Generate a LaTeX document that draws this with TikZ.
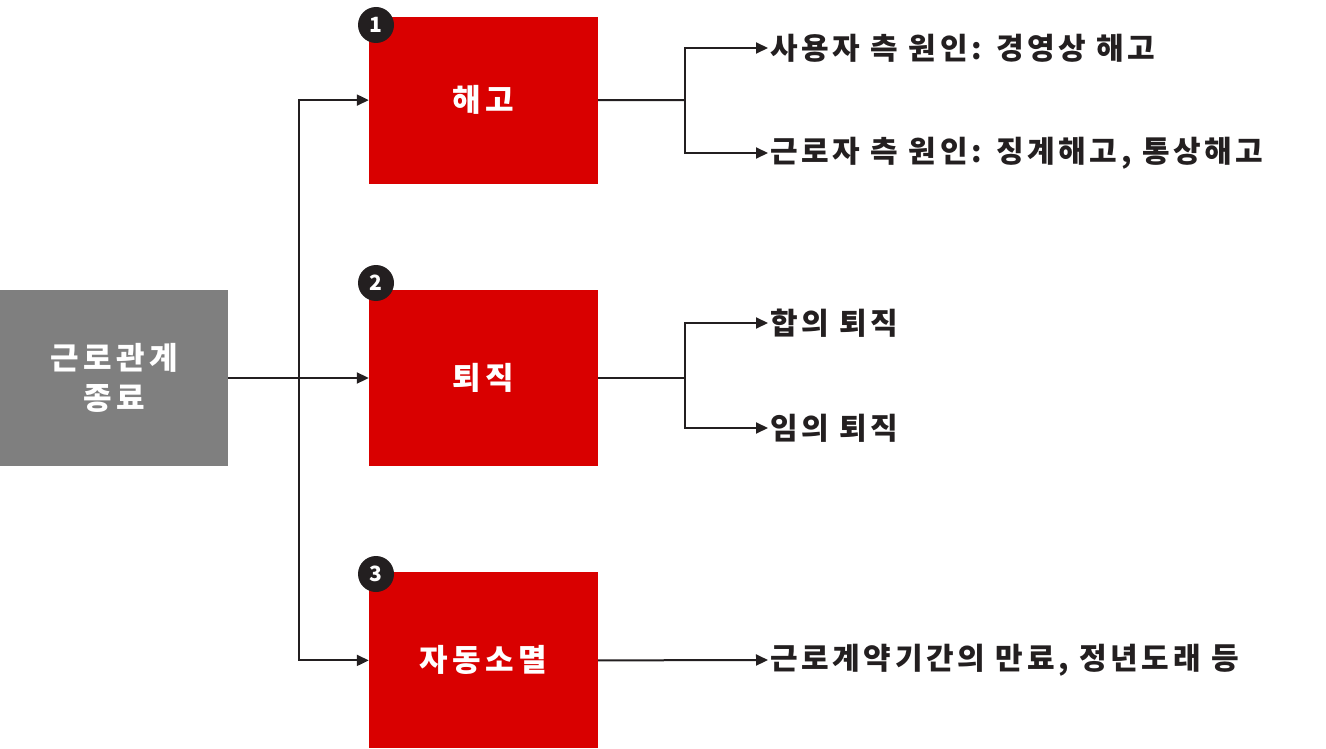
\documentclass[tikz,border=0pt]{standalone}
\usepackage{fontspec}
\setmainfont{Noto Sans CJK KR}
\usetikzlibrary{arrows.meta,positioning,calc}
\definecolor{TermGray}{HTML}{7F7F7F}
\definecolor{TermRed}{HTML}{D90000}
\definecolor{TermInk}{HTML}{231F20}

\begin{document}
\begin{tikzpicture}[
  x=1pt, y=-1pt,
  node distance=106pt,
  rootbox/.style={fill=TermGray,text=white,minimum width=228pt,minimum height=176pt,align=center,inner sep=0pt,font=\fontsize{31}{40}\selectfont\bfseries\addfontfeatures{LetterSpace=14}},
  redbox/.style={fill=TermRed,text=white,minimum width=229pt,minimum height=167pt,inner sep=0pt,font=\fontsize{31}{40}\selectfont\bfseries\addfontfeatures{LetterSpace=14}},
  badge/.style={circle,fill=TermInk,text=white,minimum size=36pt,inner sep=0pt,font=\fontsize{21}{21}\selectfont\bfseries},
  item/.style={anchor=west,inner sep=2pt,text=TermInk,font=\fontsize{30}{34}\selectfont\bfseries\addfontfeatures{LetterSpace=12.2}},
  arrow/.style={-{Triangle[length=12pt,width=11pt]},line width=2pt,draw=TermInk}
]
  \useasboundingbox (0,0) rectangle (1326,749);

  \node[rootbox] (root) at (114,378) {근로관계\\종료};
  \node[redbox, minimum height=176pt] (quit) at (483.5,378) {퇴직};
  \node[redbox, above=106pt of quit] (fire) {해고};
  \node[redbox, minimum height=176pt, below=106pt of quit] (auto) {자동소멸};

  \node[badge] (b1) at (376,25) {1};
  \node[badge] (b2) at (376,283) {2};
  \node[badge] (b3) at (376,574) {3};

  \node[item] (f1) at (768,48) {사용자 측 원인: 경영상 해고};
  \node[item] (f2) at (768,153) {근로자 측 원인: 징계해고, 통상해고};
  \node[item] (q1) at (768,323) {합의 퇴직};
  \node[item] (q2) at (768,428) {임의 퇴직};
  \node[item] (a1) at (768,660) {근로계약기간의 만료, 정년도래 등};

  % junctions
  \coordinate (j0) at (299,378);
  \coordinate (j1) at (685,100);
  \coordinate (j2) at (685,378);

  \draw[arrow, -] (root.east) -- (j0);
  \draw[arrow] (j0) |- (fire.west);
  \draw[arrow] (j0) -- (quit.west);
  \draw[arrow] (j0) |- (auto.west);

  \draw[arrow, -] (fire.east) -- (j1);
  \draw[arrow] (j1) |- (f1.west);
  \draw[arrow] (j1) |- (f2.west);

  \draw[arrow, -] (quit.east) -- (j2);
  \draw[arrow] (j2) |- (q1.west);
  \draw[arrow] (j2) |- (q2.west);

  \draw[arrow] (auto.east) -- (a1.west);
\end{tikzpicture}
\end{document}
